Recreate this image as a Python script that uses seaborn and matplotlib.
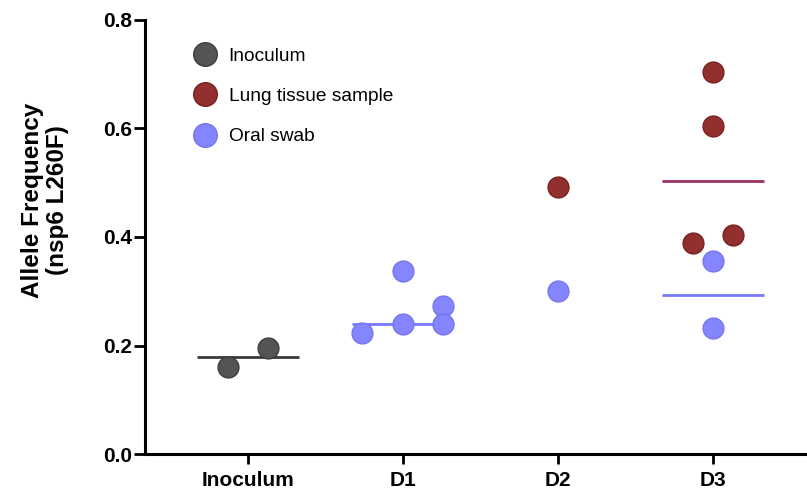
import matplotlib
matplotlib.use("Agg")
import matplotlib.pyplot as plt
import seaborn as sns
import pandas as pd
import numpy as np
from matplotlib.lines import Line2D

# ---- data ----
categories = ["Inoculum", "D1", "D2", "D3"]
sample_types = ["Inoculum", "Lung tissue sample", "Oral swab"]

inoculum_vals = [0.161, 0.195]
d1_oral_vals = [0.223, 0.337, 0.240, 0.273, 0.239]
d2_lung_vals = [0.493]
d2_oral_vals = [0.300]
d3_lung_vals = [0.705, 0.605, 0.389, 0.403]
d3_oral_vals = [0.355, 0.232]

# horizontal layout offsets of the dots within a category (Prism-style scatter)
inoculum_off = [-0.13, 0.13]
d1_oral_off = [-0.26, 0.0, 0.0, 0.26, 0.26]
d2_lung_off = [0.0]
d2_oral_off = [0.0]
d3_lung_off = [0.0, 0.0, -0.13, 0.13]
d3_oral_off = [0.0, 0.0]

groups = [
    ("Inoculum", "Inoculum", inoculum_vals, inoculum_off),
    ("D1", "Oral swab", d1_oral_vals, d1_oral_off),
    ("D2", "Lung tissue sample", d2_lung_vals, d2_lung_off),
    ("D2", "Oral swab", d2_oral_vals, d2_oral_off),
    ("D3", "Lung tissue sample", d3_lung_vals, d3_lung_off),
    ("D3", "Oral swab", d3_oral_vals, d3_oral_off),
]

rows = []
for cat, st, vals, offs in groups:
    for v, o in zip(vals, offs):
        rows.append({"group": cat, "stype": st, "value": v,
                     "xpos": categories.index(cat) + o})
df = pd.DataFrame(rows)

colors = {"Inoculum": "#545454", "Lung tissue sample": "#922f2f", "Oral swab": "#8585ff"}
edges = {"Inoculum": "#3e3e3e", "Lung tissue sample": "#7a2020", "Oral swab": "#7575f0"}
line_colors = {"Inoculum": "#3a3a3a", "Lung tissue sample": "#9c2f66", "Oral swab": "#7878ff"}

plt.rcParams["font.family"] = ["Liberation Sans", "DejaVu Sans"]

fig = plt.figure(figsize=(8.07, 4.90), dpi=100)
ax = fig.add_axes([145 / 807, 1 - 454 / 490, 1 - 145 / 807, (454 - 20) / 490])

# median lines
stats = df.groupby(["group", "stype"])["value"].agg(["median", "count"]).reset_index()
for _, r in stats.iterrows():
    if r["count"] < 2:
        continue
    xi = categories.index(r["group"])
    ax.hlines(r["median"], xi - 0.33, xi + 0.33, color=line_colors[r["stype"]],
              lw=2, zorder=1)

for st in sample_types:
    sub = df[df["stype"] == st]
    sns.scatterplot(data=sub, x="xpos", y="value", ax=ax, s=225,
                    color=colors[st], edgecolor=edges[st], linewidth=1,
                    zorder=3, legend=False)

ax.set_xlim((145 - 247.7) / 155, (807 - 247.7) / 155)
ax.set_ylim(0, 0.8)
ax.set_xticks(range(len(categories)))
ax.set_xticklabels(categories, fontsize=15, fontweight="bold")
ax.set_yticks([0.0, 0.2, 0.4, 0.6, 0.8])
ax.set_yticklabels(["0.0", "0.2", "0.4", "0.6", "0.8"], fontsize=15, fontweight="bold")
ax.set_xlabel("")
ax.set_ylabel("")
fig.text(45 / 807, 1 - 200 / 490, "Allele Frequency\n(nsp6 L260F)", rotation=90,
         ha="center", va="center", fontsize=17.5, fontweight="bold",
         linespacing=1.1, multialignment="center")

for s in ["top", "right"]:
    ax.spines[s].set_visible(False)
for s in ["left", "bottom"]:
    ax.spines[s].set_linewidth(2.2)
    ax.spines[s].set_color("black")
    ax.spines[s].set_zorder(5)
ax.tick_params(axis="y", length=8, width=2, color="black", pad=1.5)
ax.tick_params(axis="x", length=7.5, width=2, color="black", pad=5)

handles = [Line2D([0], [0], marker="o", linestyle="", markersize=17,
                  markerfacecolor=colors[st], markeredgecolor=edges[st],
                  markeredgewidth=1) for st in sample_types]
leg = ax.legend(handles, sample_types, loc="upper left",
                bbox_to_anchor=(0.057, 0.955), frameon=False, fontsize=13.8,
                labelspacing=1.2, handletextpad=0.5, borderaxespad=0,
                handlelength=1.5)

fig.savefig("out.png", dpi=100)
